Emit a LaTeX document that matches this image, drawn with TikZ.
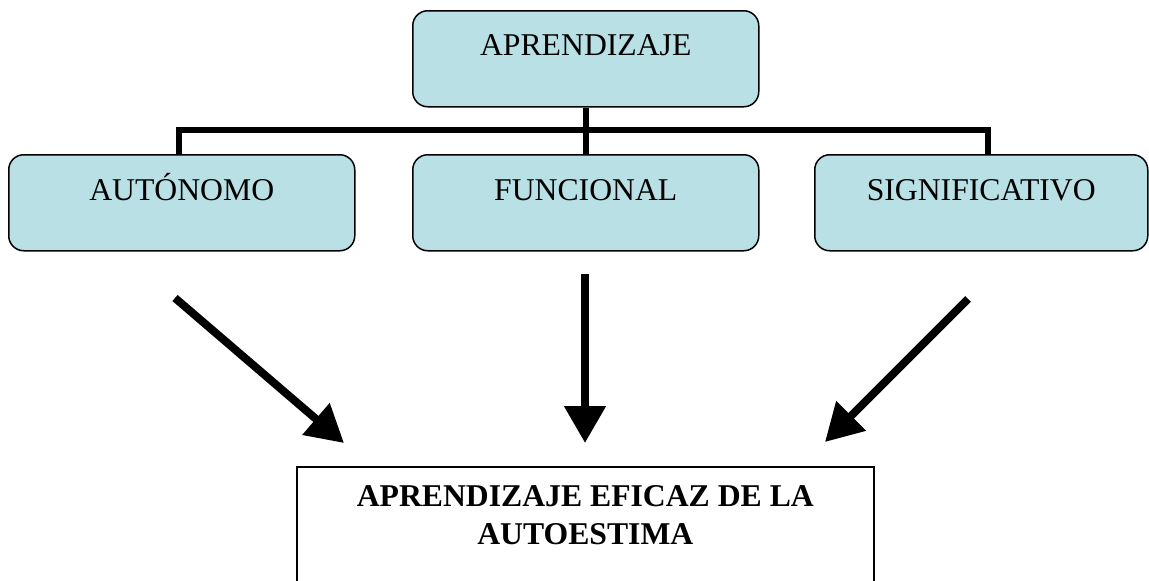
\documentclass[tikz,border=0pt]{standalone}
\usepackage{fontspec}
\setmainfont{Liberation Serif}
\usetikzlibrary{arrows.meta}
\definecolor{boxfill}{RGB}{185,224,228}
\begin{document}
\begin{tikzpicture}[x=1pt,y=-1pt,
  rbox/.style={draw=black, line width=1.5pt, fill=boxfill, rounded corners=15pt,
    minimum width=#1, minimum height=96pt, inner sep=0pt, anchor=north west},
  lbl/.style={anchor=base, inner sep=0pt, font=\fontsize{31.7}{37}\selectfont},
  blbl/.style={anchor=base, inner sep=0pt, align=center,
    font=\bfseries\fontsize{31.7}{37.5}\selectfont},
  tree/.style={draw=black, line width=6.5pt},
  bigarrow/.style={draw=black, line width=8pt,
    -{Triangle[length=37pt, width=40pt]}},
  plainbox/.style={draw=black, line width=1.6pt, fill=white, inner sep=0pt,
    anchor=north west, minimum width=577pt, minimum height=140pt}
]
\useasboundingbox (0,0) rectangle (1149,581);

% boxes
\node[rbox=346pt] (top) at (412,10) {};
\node[rbox=346pt] (aut) at (8,154) {};
\node[rbox=346pt] (fun) at (412,154) {};
\node[rbox=333pt] (sig) at (814,154) {};
\node[plainbox] (res) at (296,466) {};

% labels
\node[lbl] (topt) at ([yshift=-45pt]top.north) {APRENDIZAJE};
\node[lbl] (autt) at ([yshift=-46pt]aut.north) {AUTÓNOMO};
\node[lbl] (funt) at ([yshift=-46pt]fun.north) {FUNCIONAL};
\node[lbl] (sigt) at ([yshift=-46pt]sig.north) {SIGNIFICATIVO};
\node[blbl] (rest) at ([yshift=-78pt]res.north) {APRENDIZAJE EFICAZ DE LA\\AUTOESTIMA};

% tree connectors
\coordinate (barL) at (179,130);
\coordinate (barR) at (988,130);
\draw[tree] (top.south) -- (fun.north);
\draw[tree] ([xshift=-3.25pt]barL) -- ([xshift=3.25pt]barR);
\draw[tree] (barL) -- (barL |- aut.north);
\draw[tree] (barR) -- (barR |- sig.north);

% arrows
\coordinate (a1s) at (175,298);
\coordinate (a1e) at (344,443);
\coordinate (a2s) at (585,274);
\coordinate (a2e) at (585,443);
\coordinate (a3s) at (968,299);
\coordinate (a3e) at (825,442);
\draw[bigarrow] (a1s) -- (a1e);
\draw[bigarrow] (a2s) -- (a2e);
\draw[bigarrow] (a3s) -- (a3e);
\end{tikzpicture}
\end{document}
